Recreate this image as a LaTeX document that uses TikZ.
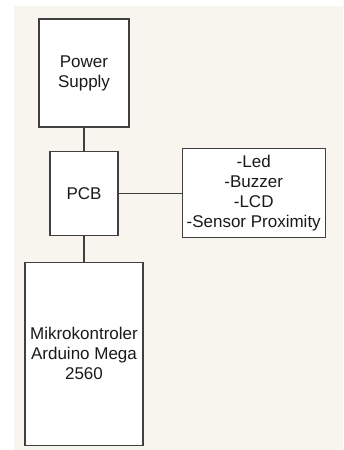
\documentclass[tikz,border=0pt]{standalone}
\usepackage{fontspec}
\setmainfont{Liberation Sans}
\usetikzlibrary{positioning}
\definecolor{canvas}{HTML}{F8F5EF}
\definecolor{border}{HTML}{404040}
\definecolor{textdark}{HTML}{1A1A1A}
\tikzset{
  block/.style={
    draw=border, fill=white, line width=1.2pt,
    font=\fontsize{17}{20}\selectfont, text=textdark, align=center,
    inner sep=2pt,
  },
  wire/.style={draw=border, line width=1.2pt},
}
\begin{document}
\begin{tikzpicture}[x=1pt, y=1pt]
  \useasboundingbox (0,0) rectangle (343,-450);
  \fill[canvas] (14,-6) rectangle (343,-450);

  \node[block, minimum width=90pt, minimum height=108pt] (power) at (84,-73)
    {Power\\Supply};
  \node[block, below=23pt of power, minimum width=68pt, minimum height=84pt] (pcb) {PCB};
  \node[block, right=63pt of pcb, minimum width=143pt, minimum height=89pt] (periph)
    {-Led\\-Buzzer\\-LCD\\-Sensor Proximity};
  \node[block, below=26pt of pcb, minimum width=118pt, minimum height=183pt] (mcu)
    {Mikrokontroler\\Arduino Mega \\2560};

  \draw[wire] (power) -- (pcb);
  \draw[wire] (pcb) -- (periph);
  \draw[wire] (pcb) -- (mcu);

\end{tikzpicture}
\end{document}
